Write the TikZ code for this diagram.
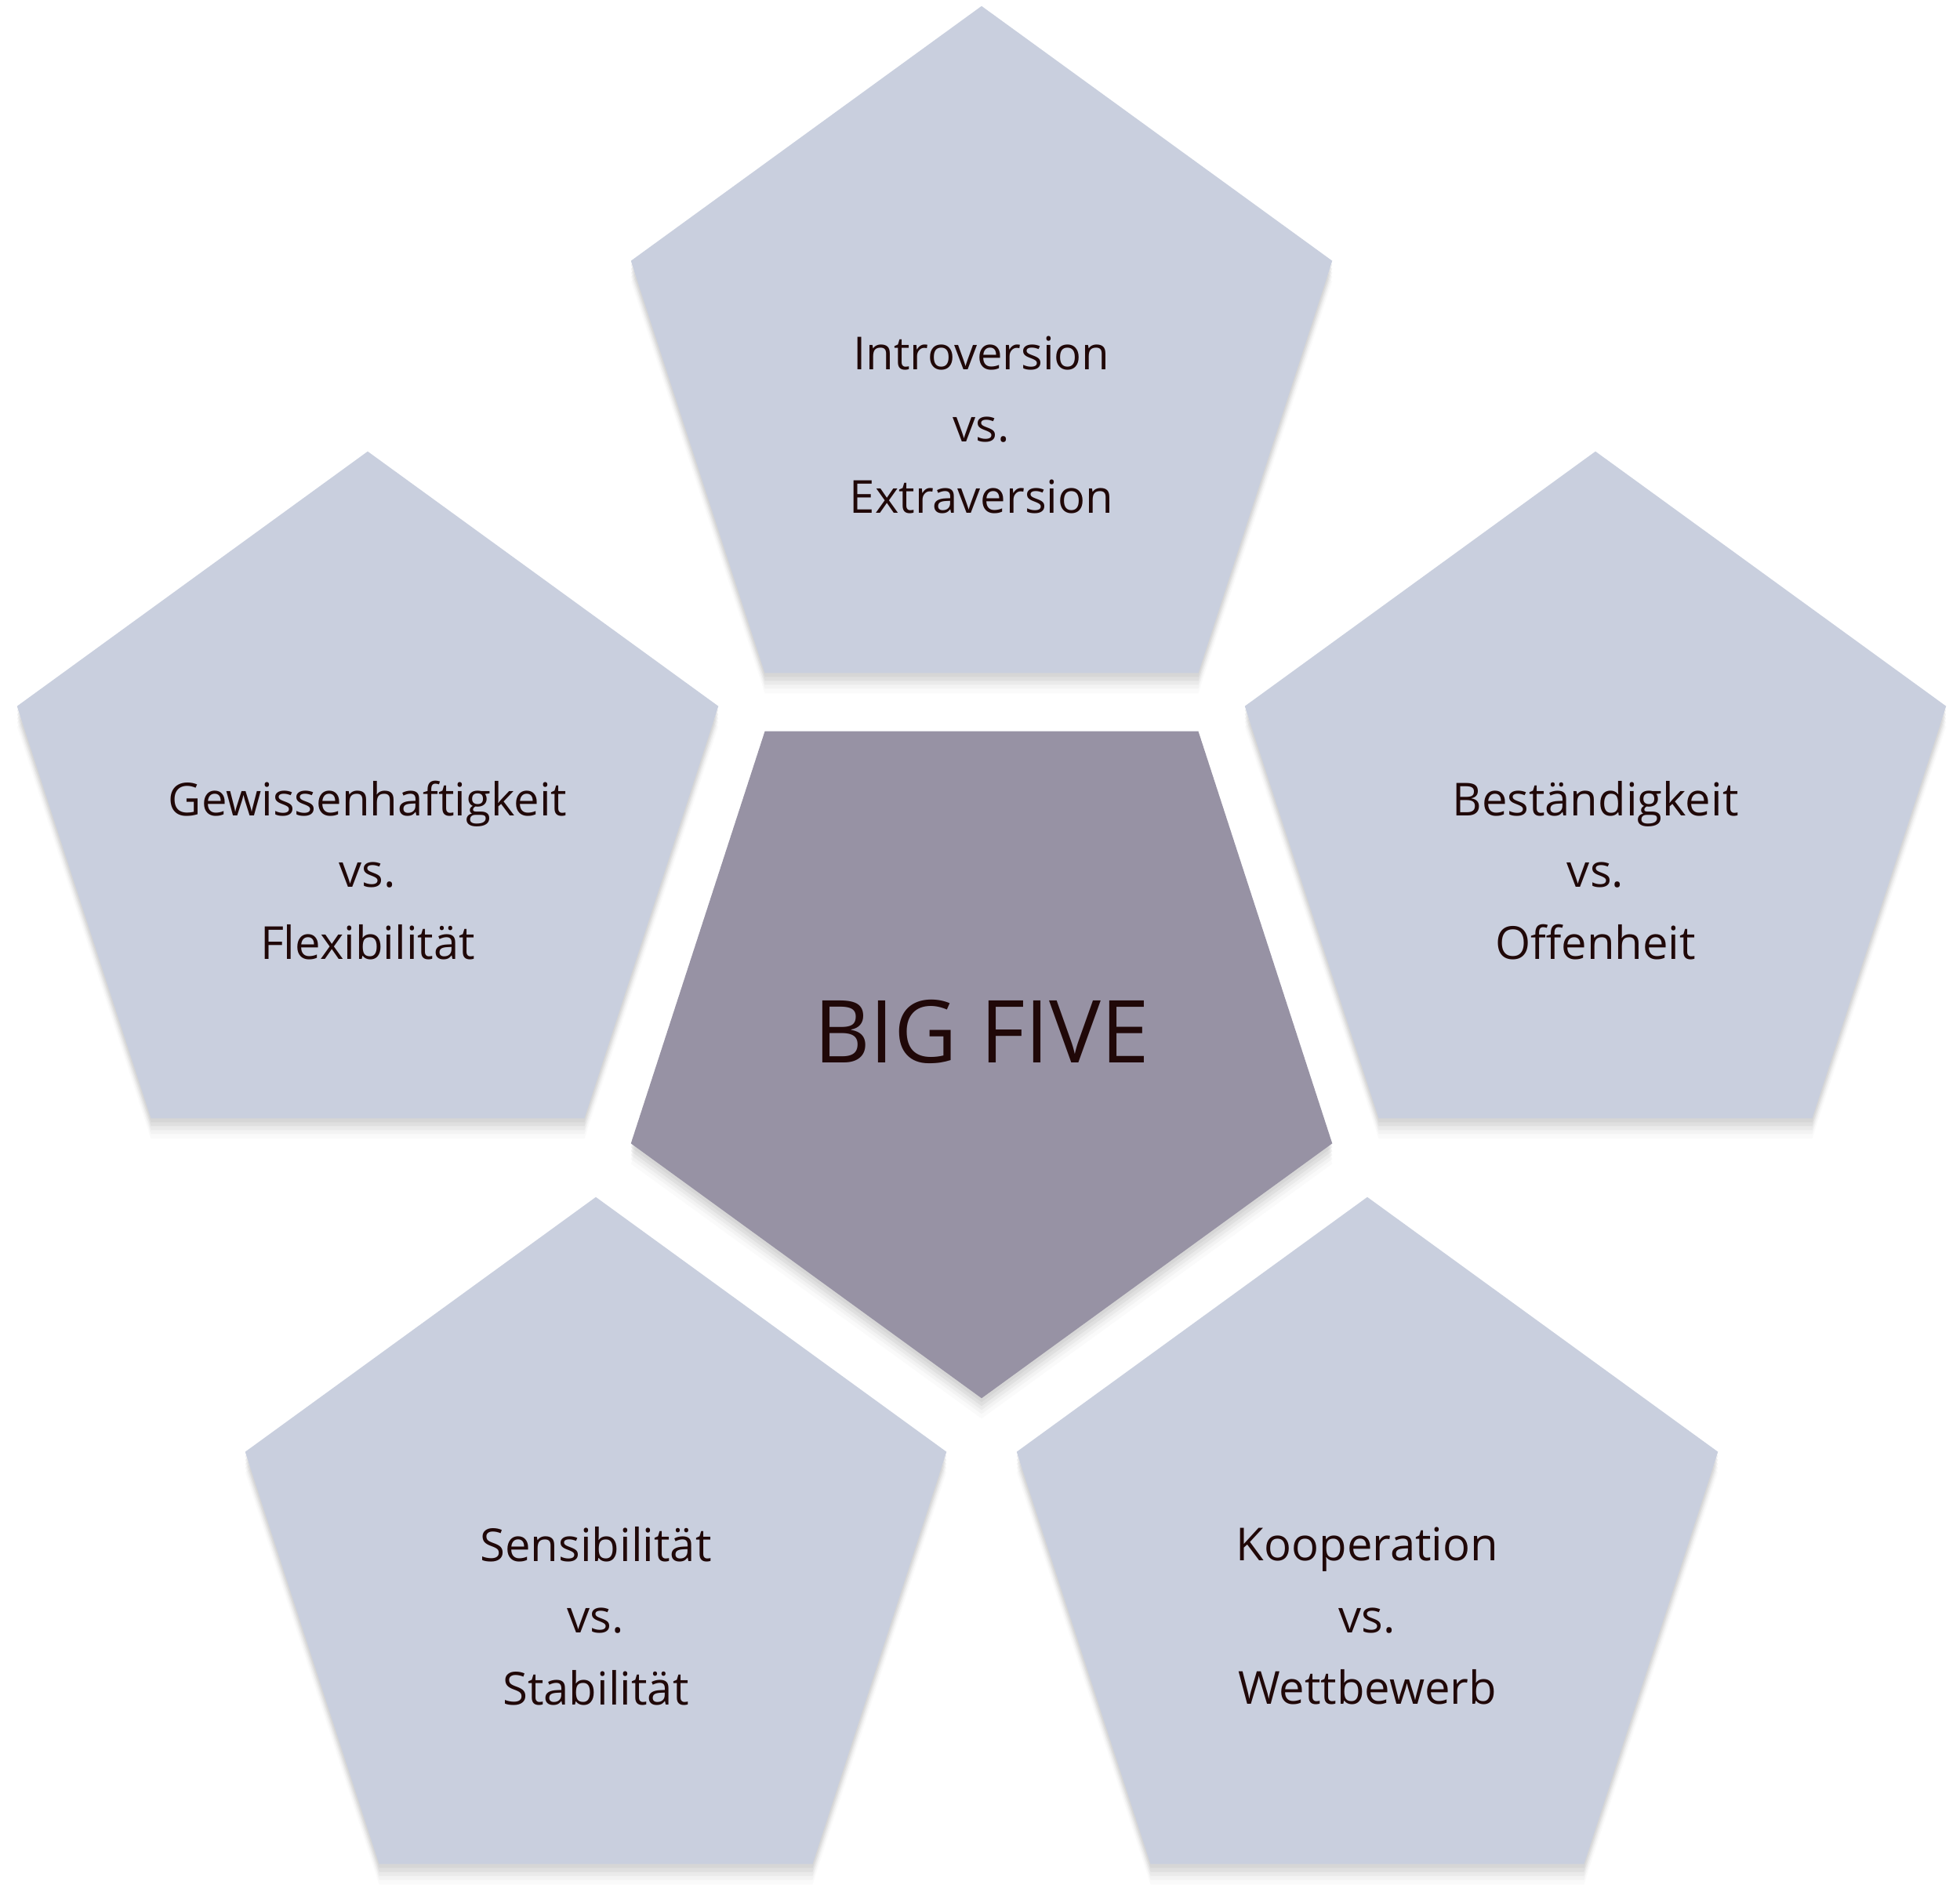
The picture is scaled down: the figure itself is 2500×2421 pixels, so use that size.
\documentclass[tikz,border=0pt]{standalone}
\usepackage{fontspec}
\setmainfont{Open Sans}
\usetikzlibrary{shapes.geometric,shadows}
\definecolor{traitfill}{RGB}{201,207,222}
\definecolor{corefill}{RGB}{151,146,164}
\definecolor{inkc}{RGB}{32,8,8}

\begin{document}
\begin{tikzpicture}[x=0.01cm,y=-0.01cm,
  softshade/.style={
    drop shadow={opacity=0.10,shadow xshift=0pt,shadow yshift=-0.05cm},
    drop shadow={opacity=0.10,shadow xshift=0pt,shadow yshift=-0.10cm},
    drop shadow={opacity=0.08,shadow xshift=0pt,shadow yshift=-0.15cm},
    drop shadow={opacity=0.06,shadow xshift=0pt,shadow yshift=-0.20cm},
    drop shadow={opacity=0.04,shadow xshift=0pt,shadow yshift=-0.26cm}},
  trait/.style={regular polygon,regular polygon sides=5,minimum size=9.4cm,
    inner sep=0pt,outer sep=0pt,fill=traitfill,softshade},
  core/.style={trait,fill=corefill,shape border rotate=180},
  lbl/.style={align=center,text=inkc,font=\fontsize{16.5}{26}\selectfont},
  title/.style={text=inkc,font=\fontsize{31.5}{38}\selectfont}]

\useasboundingbox (0,0) rectangle (2500,2421);

% outer pentagons
\node[trait] (intro) at (1252,478) {};
\node[trait] (gewis) at (469,1046) {};
\node[trait] (bestd) at (2035,1046) {};
\node[trait] (sensi) at (760,1997) {};
\node[trait] (koop)  at (1744,1997) {};

% middle
\node[core] (big) at (1252,1313) {};
\node[title] (bigT) at ([yshift=-0.03cm]big.center) {BIG FIVE};

% texts
\node[lbl] (introT) at ([yshift=-0.64cm]intro.center) {Introversion\\vs.\\Extraversion};
\node[lbl] (gewisT) at ([yshift=-0.64cm]gewis.center) {Gewissenhaftigkeit\\vs.\\Flexibilität};
\node[lbl] (bestdT) at ([yshift=-0.64cm]bestd.center) {Beständigkeit\\vs.\\Offenheit};
\node[lbl] (sensiT) at ([yshift=-0.64cm]sensi.center) {Sensibilität\\vs.\\Stabilität};
\node[lbl] (koopT)  at ([yshift=-0.64cm]koop.center)  {Kooperation\\vs.\\Wettbewerb};

\end{tikzpicture}
\end{document}
